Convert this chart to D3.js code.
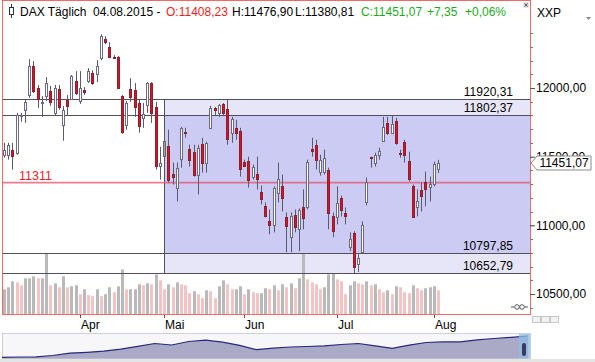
<!DOCTYPE html>
<html>
  <head>
    <meta charset="utf-8">
    <title>DAX Täglich</title>
    <style>
      body { margin: 0; background: #fff; }
      svg { display: block; font-family: "Liberation Sans", Arial, sans-serif; font-size: 12px; }
    </style>
    <script src="https://d3js.org/d3.v7.min.js"></script>
  </head>
  <body>
    <svg id="chart" width="595" height="362"></svg>
    <script>
      // daily candles 06.03.2015 - 04.08.2015
      const open = [11514,11514,11551,11529,11800,11841,11949,12159,12000,11895,
                    11942,11978,11819,11993,11732,11913,11920,12051,11906,11986,
                    12051,12109,12101,12217,12355,12297,12228,12225,11942,11732,
                    11993,11986,11891,11783,11877,12036,11862,11435,11616,11580,
                    11377,11275,11486,11683,11558,11536,11370,11594,11457,11710,
                    11855,11819,11884,11848,11674,11710,11688,11464,11471,11355,
                    11377,11246,11138,11029,11007,11239,11290,11058,10913,11072,
                    10971,11130,11138,11558,11587,11391,11391,11406,11065,11058,
                    11196,11087,10841,10942,10717,10804,11174,11495,11457,11514,
                    11616,11746,11674,11761,11524,11609,11471,11290,11130,11254,
                    11312,11283,11297,11408.23]
      const high = [11601,11601,11601,11819,11819,11913,12210,12196,12022,11942,
                    12080,12014,12022,12022,11870,11949,12094,12123,12123,12007,
                    12145,12130,12203,12391,12377,12333,12239,12232,11949,11906,
                    12072,12036,11913,11891,12043,12043,11899,11572,11681,11696,
                    11457,11457,11717,11710,11587,11587,11587,11638,11609,11870,
                    11862,11884,11891,11920.31,11790,11768,11710,11478,11500,11442,
                    11500,11290,11167,11116,11283,11457,11370,11094,11094,11116,
                    11123,11261,11478,11638,11623,11514,11551,11420,11094,11283,
                    11217,11130,10949,10957,10790,11029,11348,11500,11529,11565,
                    11790,11790,11802.37,11783,11551,11623,11536,11297,11261,11312,
                    11391,11355,11464,11476.90]
      const low = [11493,11478,11406,11514,11754,11746,11928,11964,11855,11790,
                   11906,11870,11804,11841,11616,11804,11913,11949,11884,11949,
                   12036,12022,12043,12203,12319,12217,12217,11993,11667,11696,
                   11899,11790,11674,11710,11819,11746,11406,11333,11406,11312,
                   11297,11174,11420,11638,11428,11355,11225,11384,11384,11710,
                   11804,11790,11804,11587,11601,11623,11355,11428,11275,11333,
                   11261,11152,11058,10935,10949,11167,11101,10804,10804,10949,
                   10812,10971,11116,11500,11406,11362,11370,10971,10913,11007,
                   11065,11007,10812,10652.79,10659,10797.85,11145,11420,11428,11478,
                   11609,11659,11674,11587,11493,11457,11319,11058,11065,11101,
                   11138,11174,11283,11380.81]
      const close = [11551,11587,11507,11804,11806,11899,12159,11978,11920,11899,
                     12036,11899,12000,11862,11841,11870,12087,11964,12000,11971,
                     12123,12036,12159,12377,12333,12225,12225,12000,11681,11891,
                     11935,11862,11725,11812,12036,11819,11435,11457,11507,11333,
                     11355,11420,11710,11681,11478,11370,11565,11457,11601,11855,
                     11841,11877,11819,11630,11775,11674,11413,11435,11333,11428,
                     11341,11196,11065,11000,11275,11341,11203,10993,11065,10986,
                     11109,11051,11464,11543,11478,11478,11493,11094,10957,11159,
                     11109,11065,10899,10696,10761,11000,11319,11493,11514,11543,
                     11717,11674,11739,11601,11522,11514,11341,11065,11174,11210,
                     11261,11304,11443.72,11451.07]
      // volume in Mio. (no scale shown)
      const volume = [75,81,99,96,87,108,108,114,108,108,
                      183,87,93,81,114,81,84,87,60,75,
                      57,54,75,54,60,81,66,84,135,75,
                      75,75,90,87,93,90,120,102,75,90,
                      81,96,90,87,63,69,60,48,72,69,
                      48,84,102,90,75,75,84,60,75,66,
                      63,63,78,75,87,72,90,81,93,78,
                      108,183,105,96,90,75,81,120,123,105,
                      99,60,87,99,93,90,99,87,90,75,
                      66,72,60,84,81,66,63,87,78,72,
                      78,81,84,72]
      const grayCandles = [38]

      // month labels and the index of each month's first trading day
      const monthLabels = ["Apr", "Mai", "Jun", "Jul", "Aug"]
      const monthStart = [18, 38, 57, 79, 102]

      // support / resistance box from 04.05.2015
      const boxStart = 38
      const levels = [11920.31, 11802.37, 10797.85, 10652.79]
      const markLevel = 11311
      const axisTicks = [10500, 11000, 11500, 12000]
      const lastDate = "04.08.2015"

      // navigator overview (long history)
      const navValues = [5960,6050,6080,6500,7230,7470,7800,8440,9260,10130,
                         9680,10740,11160,10530,9590,8260,8710,9070,9230,9440,
                         9830,10130,9440,8680,9650,10430,10620,10620,11220,11640,
                         12010,12400]

      const de = d3.formatLocale({decimal: ",", thousands: ".", grouping: [3], currency: ["", "€"]})
      const f2 = de.format(".2f")
      const fs = de.format("+.2f")

      const svg = d3.select("#chart")
      const n = close.length
      const L = 2, R = 530, B = 314

      const x = d3.scaleLinear().domain([0, n - 1]).range([4, 438])
      const y = d3.scaleLinear().domain([10500, 12000]).range([294, 88])
      const yv = d3.scaleLinear().domain([0, 200]).range([B, B - 66])

      svg.append("defs").append("clipPath").attr("id", "plotclip")
         .append("rect").attr("x", L).attr("y", 20).attr("width", R - L).attr("height", B - 20)

      const g = svg.append("g").attr("clip-path", "url(#plotclip)")

      // shaded range box
      g.append("rect")
       .attr("x", Math.round(x(boxStart)) + 0.5).attr("y", y(levels[0]))
       .attr("width", R - x(boxStart)).attr("height", y(levels[3]) - y(levels[0]))
       .attr("fill", "#e6e6f8")
      g.append("rect")
       .attr("x", Math.round(x(boxStart)) + 0.5).attr("y", y(levels[1]))
       .attr("width", R - x(boxStart)).attr("height", y(levels[2]) - y(levels[1]))
       .attr("fill", "#cbcbf4")

      // volume: gray when higher than the day before, pink when lower
      g.selectAll("rect.vol")
       .data(volume)
       .join("rect")
       .attr("class", "vol")
       .attr("x", (d, i) => Math.round(x(i)) - 1)
       .attr("y", d => yv(d))
       .attr("width", 3)
       .attr("height", d => B - yv(d))
       .attr("fill", (d, i) => i === 0 || d >= volume[i - 1] ? "#b9b9b9" : "#f4c3c3")

      // level lines
      g.selectAll("line.lvl")
       .data(levels)
       .join("line")
       .attr("class", "lvl")
       .attr("x1", L).attr("x2", R)
       .attr("y1", d => Math.round(y(d)) + 0.5).attr("y2", d => Math.round(y(d)) + 0.5)
       .attr("stroke", "#505058").attr("stroke-width", 1)
      g.append("line")
       .attr("x1", Math.round(x(boxStart)) + 0.5).attr("x2", Math.round(x(boxStart)) + 0.5)
       .attr("y1", y(levels[0])).attr("y2", y(levels[3]))
       .attr("stroke", "#505058")

      // marker line
      g.append("line")
       .attr("x1", L).attr("x2", R)
       .attr("y1", y(markLevel)).attr("y2", y(markLevel))
       .attr("stroke", "#e8506a").attr("stroke-opacity", 0.75).attr("stroke-width", 1.6)

      // candles
      const idx = d3.range(n)
      g.selectAll("line.wick")
       .data(idx)
       .join("line")
       .attr("class", "wick")
       .attr("x1", i => Math.round(x(i)) + 0.5).attr("x2", i => Math.round(x(i)) + 0.5)
       .attr("y1", i => y(high[i])).attr("y2", i => y(low[i]))
       .attr("stroke", "#5a5a6c")

      g.selectAll("rect.body")
       .data(idx)
       .join("rect")
       .attr("class", "body")
       .attr("x", i => Math.round(x(i)) - 0.5)
       .attr("y", i => Math.round(y(Math.max(open[i], close[i]))) + 0.5)
       .attr("width", 2)
       .attr("height", i => Math.max(1, Math.round(Math.abs(y(open[i]) - y(close[i])))))
       .attr("fill", i => grayCandles.includes(i) ? "#a4a4a8" : close[i] >= open[i] ? "#ffffff" : "#e0101c")
       .attr("stroke", i => grayCandles.includes(i) ? "#666" : close[i] >= open[i] ? "#6a6a84" : "#8a2030")

      // level labels
      svg.selectAll("text.lvl")
         .data(levels)
         .join("text")
         .attr("class", "lvl")
         .attr("x", 513).attr("y", d => Math.round(y(d)) - 3)
         .attr("text-anchor", "end")
         .text(d => f2(d))

      svg.append("text")
         .attr("x", 19).attr("y", y(markLevel) - 3)
         .attr("fill", "#e8202c").attr("font-size", 12.5)
         .text(markLevel)

      // frame
      svg.append("rect")
         .attr("x", L + 0.5).attr("y", 0.5).attr("width", R - L).attr("height", B)
         .attr("fill", "none").attr("stroke", "#f06868")

      // header
      const last = n - 1
      const chg = close[last] - close[last - 1]
      const head = svg.append("text").attr("y", 16)
      head.append("tspan").attr("x", 20).text("DAX Täglich")
      head.append("tspan").attr("x", 93).text(lastDate + " -")
      head.append("tspan").attr("x", 166).attr("fill", "#ee1c1c").text("O:" + f2(open[last]))
      head.append("tspan").attr("x", 232).text("H:" + f2(high[last]))
      head.append("tspan").attr("x", 295).text("L:" + f2(low[last]))
      head.append("tspan").attr("x", 361).attr("fill", "#1ea81e").text("C:" + f2(close[last]))
      head.append("tspan").attr("x", 427).attr("fill", "#1ea81e").text(fs(chg))
      head.append("tspan").attr("x", 465).attr("fill", "#1ea81e").text(fs(chg / close[last - 1] * 100) + "%")

      // header icon
      svg.append("line").attr("x1", 11.5).attr("x2", 11.5).attr("y1", 4).attr("y2", 18).attr("stroke", "#333")
      svg.append("rect").attr("x", 9.5).attr("y", 7.5).attr("width", 4).attr("height", 7)
         .attr("fill", "#fff").attr("stroke", "#333")

      // close box + symbol
      svg.append("rect").attr("x", 523.5).attr("y", 2.5).attr("width", 5).attr("height", 5).attr("fill", "#ccc")
      svg.append("path").attr("d", "M524.5,3.5l3,3m0,-3l-3,3").attr("stroke", "#666")
      svg.append("text").attr("x", 537).attr("y", 17).text("XXP")
      svg.append("path").attr("d", "M586,17h5l-2.5,3z").attr("fill", "#888")

      // right axis
      const minor = d3.range(10400, 12500, 100)
      svg.selectAll("line.minor")
         .data(minor)
         .join("line")
         .attr("class", "minor")
         .attr("x1", R).attr("x2", R + 3)
         .attr("y1", d => Math.round(y(d)) + 0.5).attr("y2", d => Math.round(y(d)) + 0.5)
         .attr("stroke", "#777")
      const ax = svg.append("g")
         .attr("transform", "translate(" + R + ",0)")
         .call(d3.axisRight(y).tickValues(axisTicks).tickFormat(f2).tickSize(5).tickPadding(1))
      ax.select(".domain").remove()
      ax.selectAll("line").attr("stroke", "#555")
      ax.selectAll("text").attr("font-family", "Liberation Sans, Arial, sans-serif").attr("font-size", 12).attr("fill", "#000")

      // last price callout (covers the 11500 label as in the original)
      const cy = Math.round(y(close[last]))
      svg.append("path")
         .attr("d", "M531," + cy + "L537," + (cy - 7) + "H591V" + (cy + 7) + "H537Z")
         .attr("fill", "#fff").attr("stroke", "#8a8a8a")
      svg.append("text").attr("x", 564).attr("y", cy + 4).attr("text-anchor", "middle").text(f2(close[last]))

      // small icon in volume pane
      svg.append("path").attr("d", "M511,307h3M525,307h3").attr("stroke", "#555")
      svg.append("circle").attr("cx", 517).attr("cy", 307).attr("r", 2.3).attr("fill", "#fff").attr("stroke", "#555")
      svg.append("circle").attr("cx", 522).attr("cy", 307).attr("r", 2.3).attr("fill", "#fff").attr("stroke", "#555")

      // x axis
      const xa = svg.append("g")
      xa.selectAll("line")
        .data(monthStart)
        .join("line")
        .attr("x1", d => Math.round(x(d)) + 0.5).attr("x2", d => Math.round(x(d)) + 0.5)
        .attr("y1", B + 1).attr("y2", B + 4)
        .attr("stroke", "#555")
      xa.selectAll("text")
        .data(monthStart)
        .join("text")
        .attr("x", d => Math.round(x(d)) + 1).attr("y", 329)
        .text((d, i) => monthLabels[i])

      // scroll buttons
      svg.selectAll("rect.btn")
         .data([0, 1, 2])
         .join("rect")
         .attr("class", "btn")
         .attr("x", d => 532.5 + d * 9).attr("y", 316.5).attr("width", 8).attr("height", 6)
         .attr("fill", "#f2f2f2").attr("stroke", "#c8c8c8")

      // navigator
      const nx = d3.scaleLinear().domain([0, navValues.length - 1]).range([L, 528])
      const ny = d3.scaleLinear().domain([5900, 12400]).range([357.5, 336])
      svg.append("rect").attr("x", L + 0.5).attr("y", 333.5).attr("width", R - L).attr("height", 25)
         .attr("fill", "#f7f7fa").attr("stroke", "#cfcfd6")
      svg.append("path")
         .datum(navValues)
         .attr("d", d3.area().x((d, i) => nx(i)).y0(358.5).y1(d => ny(d)))
         .attr("fill", "#aaaac6")
      svg.append("path")
         .datum(navValues)
         .attr("d", d3.line().x((d, i) => nx(i)).y(d => ny(d)))
         .attr("fill", "none").attr("stroke", "#28287e").attr("stroke-width", 1.2)
      svg.append("rect").attr("x", 519).attr("y", 334).attr("width", 11).attr("height", 24)
         .attr("fill", "#8fbbe8").attr("fill-opacity", 0.75)
      svg.append("rect").attr("x", 522).attr("y", 343).attr("width", 4).attr("height", 13).attr("rx", 2)
         .attr("fill", "#3a3a5a")
      svg.append("rect").attr("x", 0).attr("y", 359).attr("width", 595).attr("height", 3).attr("fill", "#e4e4e4")
    </script>
  </body>
</html>
